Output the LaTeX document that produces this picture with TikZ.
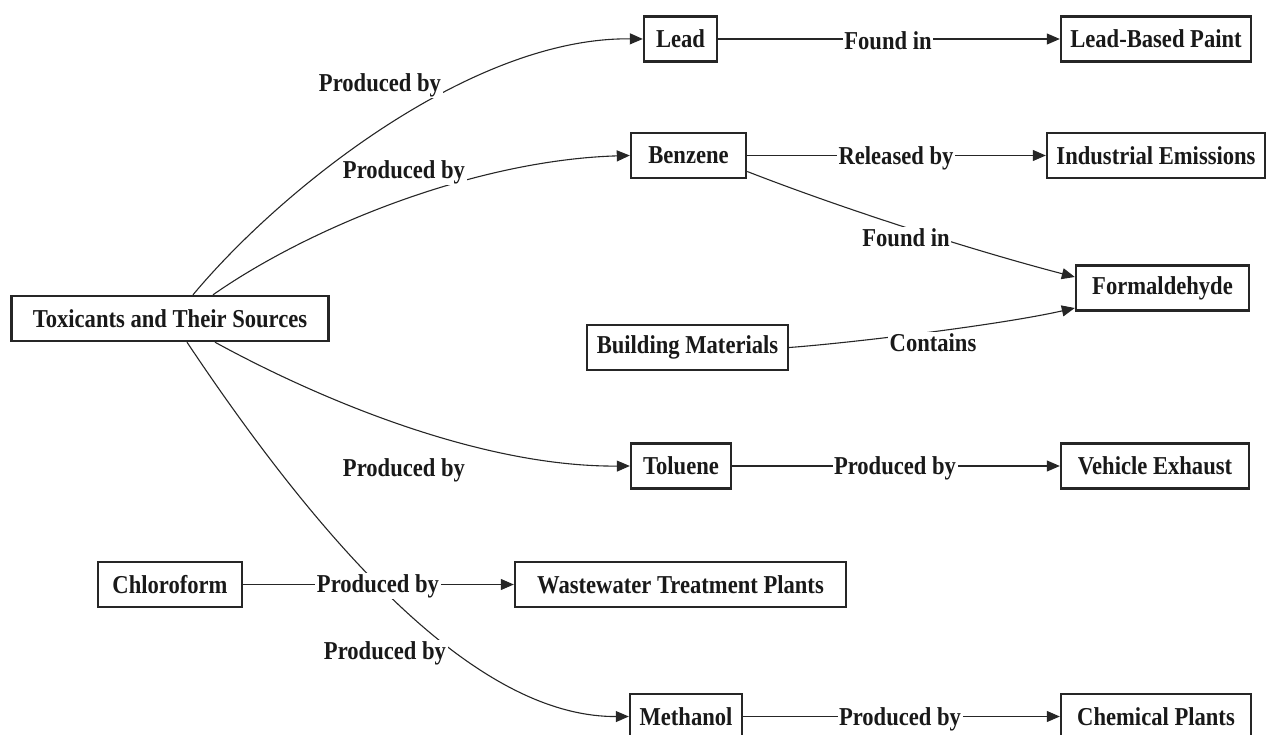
\documentclass[tikz,border=0pt]{standalone}
\usepackage{graphicx}
\usepackage{fontspec}
\setmainfont{Liberation Serif}
\usetikzlibrary{arrows.meta}
\newcommand{\tall}[1]{\scalebox{1}[1.14]{#1}}
\tikzset{
  txt/.style={font=\fontsize{22.6}{26}\selectfont\bfseries, text=black!90},
  box/.style={txt, draw=black!85, line width=2.4pt, fill=white, minimum height=45pt, inner sep=0pt},
  lbl/.style={txt, fill=white, inner sep=1.5pt},
  edge/.style={draw=black!85, line width=1.1pt, -{Triangle[length=13pt,width=11pt]}}
}
\begin{document}
\begin{tikzpicture}[x=1pt,y=-1pt]
\useasboundingbox (0,0) rectangle (1268,735);
% nodes
\node[box, minimum width=317pt] (tox)  at (170,318.5) {\tall{Toxicants and Their Sources}};
\node[box, minimum width=73pt]  (lead) at (680.5,39) {\tall{Lead}};
\node[box, minimum width=190pt] (lbp)  at (1156,39) {\tall{Lead-Based Paint}};
\node[box, minimum width=115pt] (benz) at (688.5,155.5) {\tall{Benzene}};
\node[box, minimum width=218pt] (ind)  at (1156,155.5) {\tall{Industrial Emissions}};
\node[box, minimum width=173pt] (form) at (1162.5,288) {\tall{Formaldehyde}};
\node[box, minimum width=201pt] (bm)   at (687.5,347.5) {\tall{Building Materials}};
\node[box, minimum width=100pt] (tol)  at (681,466) {\tall{Toluene}};
\node[box, minimum width=188pt] (veh)  at (1155,466) {\tall{Vehicle Exhaust}};
\node[box, minimum width=144pt] (chl)  at (170,584.5) {\tall{Chloroform}};
\node[box, minimum width=331pt] (ww)   at (680.5,584.5) {\tall{Wastewater Treatment Plants}};
\node[box, minimum width=112pt] (meth) at (686,716.5) {\tall{Methanol}};
\node[box, minimum width=190pt] (chem) at (1156,716.5) {\tall{Chemical Plants}};
% edges
\draw[edge] ([xshift=23pt]tox.north) .. controls (283,187) and (473,37) .. (lead.west);
\draw[edge] ([xshift=43pt]tox.north) .. controls (313,225) and (478,160) .. (benz.west);
\draw[edge] ([xshift=45pt]tox.south) .. controls (315,397) and (478,467) .. (tol.west);
\draw[edge] ([xshift=17pt]tox.south) .. controls (357,597) and (498,717) .. (meth.west);
\draw[edge] (lead.east) -- (lbp.west);
\draw[edge] (benz.east) -- (ind.west);
\draw[edge] ([yshift=-16pt]benz.east) .. controls (846,210) and (975,251) .. ([yshift=11pt]form.west);
\draw[edge] (bm.east) .. controls (850,343) and (1000,325) .. ([yshift=-20pt]form.west);
\draw[edge] (tol.east) -- (veh.west);
\draw[edge] (chl.east) -- (ww.west);
\draw[edge] (meth.east) -- (chem.west);
% edge labels
\node[lbl] (l1)  at (380,85)  {\tall{Produced by}};
\node[lbl] (l2)  at (404,172) {\tall{Produced by}};
\node[lbl] (l3)  at (404,470) {\tall{Produced by}};
\node[lbl] (l4)  at (385,653) {\tall{Produced by}};
\node[lbl] (l5)  at (378,586) {\tall{Produced by}};
\node[lbl] (l6)  at (888,41)  {\tall{Found in}};
\node[lbl] (l7)  at (896,158) {\tall{Released by}};
\node[lbl] (l8)  at (906,238) {\tall{Found in}};
\node[lbl] (l9)  at (933,343) {\tall{Contains}};
\node[lbl] (l10) at (895,468) {\tall{Produced by}};
\node[lbl] (l11) at (900,719) {\tall{Produced by}};
\end{tikzpicture}
\end{document}
